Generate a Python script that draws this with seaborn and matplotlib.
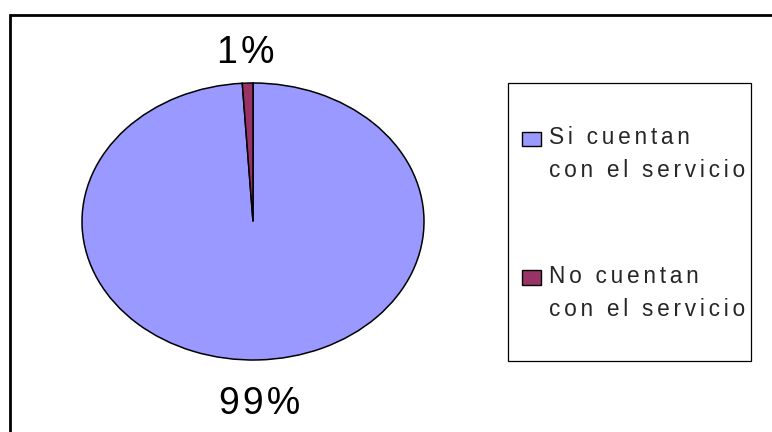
import numpy as np
import seaborn as sns
import matplotlib.pyplot as plt
from matplotlib.patches import Rectangle
from matplotlib.transforms import ScaledTranslation

labels = ["Si cuentan\ncon el servicio", "No cuentan\ncon el servicio"]
values = [99, 1]
colors = ["#9999FF", "#993366"]

sns.set_style("white")
plt.rcParams["font.family"] = ["Liberation Sans", "DejaVu Sans"]

W, H = 772, 432


def spaced(s, sp="\u2006"):
    # wide letter spacing like the original chart
    return sp.join(s)


fig = plt.figure(figsize=(W / 100, H / 100), dpi=100)

# pie drawn as ellipse: axes box = ellipse bounding box
ax = fig.add_axes([82 / W, (H - 360) / H, 342 / W, 277 / H])
wedges, texts, autotexts = ax.pie(
    values, colors=colors, startangle=90, counterclock=False,
    autopct=lambda p: spaced("%.0f%%" % p, "\u200a"), pctdistance=1.27, radius=1,
    wedgeprops=dict(edgecolor="black", linewidth=1.1),
    textprops=dict(fontsize=27, color="black"))
ax.set_aspect("auto")
ax.set_xlim(-1, 1)
ax.set_ylim(-1, 1)
ax.axis("off")
for t in autotexts:
    t.set_transform(t.get_transform() + ScaledTranslation(0, -0.07, fig.dpi_scale_trans))

# outer chart frame (right and bottom edges fall outside the image)
fig.patches.append(Rectangle((10 / W, -0.2), 1.0, 1 - 15 / H + 0.2,
                             transform=fig.transFigure, fill=False,
                             edgecolor="black", linewidth=2))

# legend frame
fig.patches.append(Rectangle((508 / W, (H - 361) / H), 243 / W, 278 / H,
                             transform=fig.transFigure, fill=False,
                             edgecolor="black", linewidth=0.9))

# legend entries
entry_base = [144.5, 283]
for lab, col, base in zip(labels, colors, entry_base):
    fig.patches.append(Rectangle((522 / W, (H - base - 1.5) / H), 19 / W, 14.5 / H,
                                 transform=fig.transFigure, facecolor=col,
                                 edgecolor="black", linewidth=1))
    for i, line in enumerate(lab.split("\n")):
        fig.text(549 / W, 1 - (base + 32.5 * i) / H, spaced(line), fontsize=16.3,
                 ha="left", va="baseline")

fig.savefig("out.png", dpi=100)
